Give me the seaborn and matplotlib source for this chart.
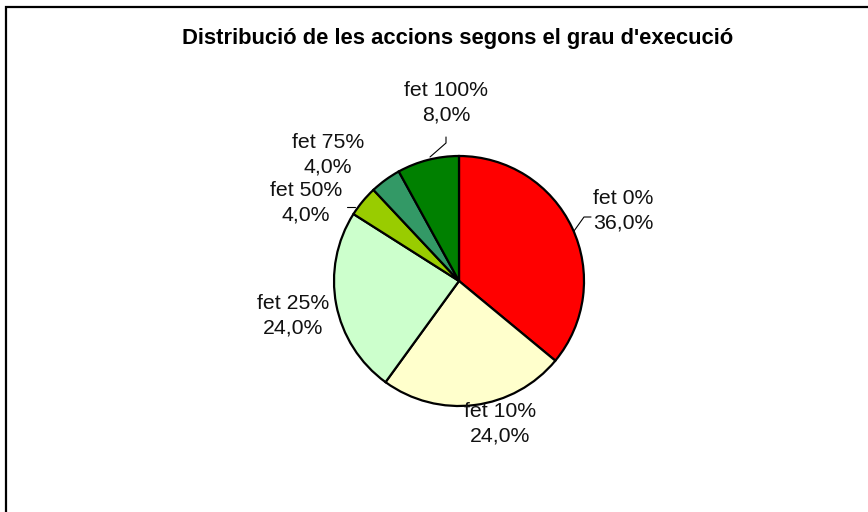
import matplotlib
matplotlib.use("Agg")
import matplotlib.pyplot as plt
import seaborn as sns
from matplotlib.patches import Rectangle

categories = ["fet 0%", "fet 10%", "fet 25%", "fet 50%", "fet 75%", "fet 100%"]
values = [36.0, 24.0, 24.0, 4.0, 4.0, 8.0]
colors = ["#FF0000", "#FFFFCC", "#CCFFCC", "#99CC00", "#339966", "#008000"]
title = "Distribució de les accions segons el grau d'execució"

sns.set_theme(style="white")
plt.rcParams["font.family"] = ["Liberation Sans", "DejaVu Sans"]

W, H = 868, 512
fig = plt.figure(figsize=(W / 100, H / 100), dpi=100)
ax = fig.add_axes([0, 0, 1, 1])

def py(y):
    return H - y

cx, cy, R = 459, 281, 125
wedges, _ = ax.pie(values, colors=colors, startangle=90, counterclock=False,
                   center=(cx, py(cy)), radius=R, frame=True,
                   wedgeprops=dict(edgecolor="black", linewidth=1.6))
ax.set_xlim(0, W)
ax.set_ylim(0, H)
ax.set_aspect("equal")
ax.axis("off")

# outer frame
ax.add_patch(Rectangle((5.5, py(H + 5)), W + 10, H + 5 - 6.5, fill=False,
                       edgecolor="black", linewidth=1.6, clip_on=False))

ax.text(458, py(44), title, ha="center", va="baseline",
        fontsize=15.8, fontweight="bold", color="black")

# label positions (pixel layout, centres of the two-line blocks)
label_pos = {
    "fet 0%": (623, 211),
    "fet 10%": (500, 424),
    "fet 25%": (293, 316),
    "fet 50%": (306, 203),
    "fet 75%": (328, 155),
    "fet 100%": (446, 103),
}
for cat, v in zip(categories, values):
    x, y = label_pos[cat]
    s = f"{cat}\n{v:.1f}%".replace(".", ",")
    ax.text(x, py(y), s, ha="center", va="center", fontsize=15.3,
            linespacing=1.36, color="#111111")

# leader lines
leaders = [
    [(430, 157), (446, 143), (446, 137)],
    [(355, 207), (347, 207)],
    [(574, 231), (584, 217), (591, 217)],
]
for pts in leaders:
    ax.plot([p[0] for p in pts], [py(p[1]) for p in pts], color="black", lw=0.8)

fig.savefig("out.png", dpi=100)
